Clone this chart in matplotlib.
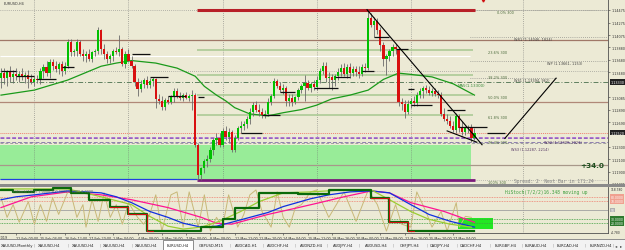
import numpy as np
import matplotlib
matplotlib.use("Agg")
import matplotlib.pyplot as plt
from matplotlib.patches import Rectangle
from matplotlib.transforms import blended_transform_factory

# ---------------- data (EURUSD H4) ----------------
opens = [1.1339, 1.1347, 1.1339, 1.1348, 1.1341, 1.1345, 1.1342, 1.1345, 1.1341, 1.1344,
         1.1337, 1.1333, 1.1337, 1.1336, 1.1350, 1.1356, 1.1347, 1.1364, 1.1359, 1.1353,
         1.1361, 1.1350, 1.1359, 1.1397, 1.1380, 1.1382, 1.1397, 1.1378, 1.1374, 1.1377,
         1.1370, 1.1380, 1.1383, 1.1416, 1.1386, 1.1377, 1.1369, 1.1374, 1.1383, 1.1380,
         1.1385, 1.1361, 1.1377, 1.1367, 1.1359, 1.1333, 1.1322, 1.1330, 1.1336, 1.1328,
         1.1334, 1.1337, 1.1306, 1.1303, 1.1293, 1.1304, 1.1301, 1.1309, 1.1318, 1.1311,
         1.1307, 1.1312, 1.1307, 1.1311, 1.1312, 1.1232, 1.1185, 1.1196, 1.1207, 1.1211,
         1.1224, 1.1240, 1.1244, 1.1233, 1.1255, 1.1246, 1.1254, 1.1225, 1.1243, 1.1259,
         1.1263, 1.1266, 1.1274, 1.1285, 1.1296, 1.1289, 1.1285, 1.1281, 1.1282, 1.1301,
         1.1311, 1.1334, 1.1326, 1.1320, 1.1323, 1.1303, 1.1307, 1.1301, 1.1309, 1.1320,
         1.1326, 1.1331, 1.1323, 1.1330, 1.1325, 1.1336, 1.1350, 1.1358, 1.1339, 1.1341,
         1.1336, 1.1342, 1.1348, 1.1355, 1.1345, 1.1356, 1.1347, 1.1353, 1.1348, 1.1345,
         1.1356, 1.1355, 1.1434, 1.1424, 1.1430, 1.1415, 1.1391, 1.1369, 1.1374, 1.1382,
         1.1388, 1.1386, 1.1301, 1.1298, 1.1285, 1.1298, 1.1303, 1.1300, 1.1312, 1.1318,
         1.1323, 1.1320, 1.1315, 1.1318, 1.1314, 1.1312, 1.1282, 1.1274, 1.1270, 1.1263,
         1.1257, 1.1279, 1.1260, 1.1254, 1.1259, 1.1262, 1.1244]
highs = [1.1355, 1.1355, 1.1352, 1.1358, 1.1352, 1.1355, 1.1350, 1.1355, 1.1348, 1.1352,
         1.1345, 1.1342, 1.1344, 1.1355, 1.1361, 1.1367, 1.1370, 1.1370, 1.1367, 1.1364,
         1.1367, 1.1364, 1.1402, 1.1402, 1.1386, 1.1402, 1.1399, 1.1386, 1.1383, 1.1386,
         1.1383, 1.1386, 1.1421, 1.1418, 1.1393, 1.1383, 1.1378, 1.1386, 1.1389, 1.1408,
         1.1389, 1.1383, 1.1386, 1.1374, 1.1361, 1.1339, 1.1336, 1.1339, 1.1342, 1.1339,
         1.1341, 1.1339, 1.1314, 1.1311, 1.1307, 1.1311, 1.1312, 1.1323, 1.1323, 1.1317,
         1.1315, 1.1317, 1.1314, 1.1320, 1.1315, 1.1235, 1.1197, 1.1210, 1.1216, 1.1229,
         1.1244, 1.1251, 1.1251, 1.1260, 1.1263, 1.1260, 1.1257, 1.1248, 1.1263, 1.1270,
         1.1271, 1.1279, 1.1292, 1.1301, 1.1303, 1.1298, 1.1292, 1.1289, 1.1307, 1.1314,
         1.1339, 1.1337, 1.1333, 1.1330, 1.1326, 1.1314, 1.1314, 1.1311, 1.1323, 1.1330,
         1.1344, 1.1336, 1.1333, 1.1336, 1.1342, 1.1355, 1.1364, 1.1364, 1.1348, 1.1345,
         1.1345, 1.1355, 1.1361, 1.1363, 1.1361, 1.1363, 1.1358, 1.1358, 1.1358, 1.1361,
         1.1363, 1.1448, 1.1443, 1.1437, 1.1434, 1.1421, 1.1396, 1.1378, 1.1386, 1.1393,
         1.1393, 1.1389, 1.1307, 1.1304, 1.1304, 1.1307, 1.1311, 1.1317, 1.1323, 1.1326,
         1.1328, 1.1326, 1.1323, 1.1323, 1.1320, 1.1317, 1.1292, 1.1282, 1.1279, 1.1270,
         1.1284, 1.1282, 1.1270, 1.1263, 1.1265, 1.1266, 1.1260]
lows = [1.1323, 1.1330, 1.1326, 1.1333, 1.1331, 1.1336, 1.1333, 1.1336, 1.1331, 1.1323,
        1.1330, 1.1326, 1.1331, 1.1330, 1.1339, 1.1342, 1.1339, 1.1352, 1.1348, 1.1345,
        1.1342, 1.1345, 1.1355, 1.1374, 1.1374, 1.1375, 1.1374, 1.1367, 1.1364, 1.1367,
        1.1364, 1.1374, 1.1377, 1.1378, 1.1370, 1.1363, 1.1363, 1.1367, 1.1377, 1.1374,
        1.1358, 1.1355, 1.1364, 1.1355, 1.1326, 1.1311, 1.1317, 1.1323, 1.1323, 1.1323,
        1.1326, 1.1292, 1.1298, 1.1289, 1.1289, 1.1298, 1.1298, 1.1301, 1.1307, 1.1304,
        1.1303, 1.1306, 1.1303, 1.1289, 1.1229, 1.1177, 1.1177, 1.1188, 1.1197, 1.1205,
        1.1216, 1.1232, 1.1229, 1.1229, 1.1241, 1.1237, 1.1221, 1.1222, 1.1240, 1.1251,
        1.1257, 1.1260, 1.1266, 1.1278, 1.1285, 1.1279, 1.1276, 1.1276, 1.1279, 1.1296,
        1.1307, 1.1323, 1.1317, 1.1314, 1.1295, 1.1295, 1.1295, 1.1298, 1.1304, 1.1315,
        1.1303, 1.1320, 1.1317, 1.1320, 1.1320, 1.1331, 1.1345, 1.1333, 1.1323, 1.1320,
        1.1326, 1.1336, 1.1342, 1.1342, 1.1339, 1.1339, 1.1342, 1.1342, 1.1339, 1.1342,
        1.1348, 1.1352, 1.1421, 1.1405, 1.1410, 1.1383, 1.1358, 1.1344, 1.1367, 1.1374,
        1.1377, 1.1295, 1.1289, 1.1276, 1.1282, 1.1292, 1.1295, 1.1295, 1.1307, 1.1307,
        1.1315, 1.1312, 1.1311, 1.1311, 1.1307, 1.1279, 1.1270, 1.1266, 1.1260, 1.1254,
        1.1252, 1.1254, 1.1249, 1.1248, 1.1251, 1.1238, 1.1241]
closes = [1.1347, 1.1339, 1.1348, 1.1341, 1.1345, 1.1342, 1.1345, 1.1341, 1.1344, 1.1337,
          1.1333, 1.1337, 1.1336, 1.1350, 1.1356, 1.1347, 1.1364, 1.1359, 1.1353, 1.1361,
          1.1350, 1.1359, 1.1397, 1.1380, 1.1382, 1.1397, 1.1378, 1.1374, 1.1377, 1.1370,
          1.1380, 1.1383, 1.1416, 1.1386, 1.1377, 1.1369, 1.1374, 1.1383, 1.1380, 1.1385,
          1.1361, 1.1377, 1.1367, 1.1359, 1.1333, 1.1322, 1.1330, 1.1336, 1.1328, 1.1334,
          1.1337, 1.1306, 1.1303, 1.1293, 1.1304, 1.1301, 1.1309, 1.1318, 1.1311, 1.1307,
          1.1312, 1.1307, 1.1311, 1.1312, 1.1232, 1.1185, 1.1196, 1.1207, 1.1211, 1.1224,
          1.1240, 1.1244, 1.1233, 1.1255, 1.1246, 1.1254, 1.1225, 1.1243, 1.1259, 1.1263,
          1.1266, 1.1274, 1.1285, 1.1296, 1.1289, 1.1285, 1.1281, 1.1282, 1.1301, 1.1311,
          1.1334, 1.1326, 1.1320, 1.1323, 1.1303, 1.1307, 1.1301, 1.1309, 1.1320, 1.1326,
          1.1331, 1.1323, 1.1330, 1.1325, 1.1336, 1.1350, 1.1358, 1.1339, 1.1341, 1.1336,
          1.1342, 1.1348, 1.1355, 1.1345, 1.1356, 1.1347, 1.1353, 1.1348, 1.1345, 1.1356,
          1.1355, 1.1434, 1.1424, 1.1430, 1.1415, 1.1391, 1.1369, 1.1374, 1.1382, 1.1388,
          1.1385, 1.1301, 1.1298, 1.1285, 1.1298, 1.1303, 1.1300, 1.1312, 1.1318, 1.1323,
          1.1320, 1.1315, 1.1318, 1.1314, 1.1312, 1.1282, 1.1274, 1.1270, 1.1263, 1.1257,
          1.1279, 1.1260, 1.1254, 1.1259, 1.1262, 1.1244, 1.1252]

# moving average (bar index, price)
ma_idx = [0, 11, 22, 33, 38, 43, 51, 58, 64, 67, 71, 74, 77, 82, 88, 93, 99, 104, 109,
          115, 121, 126, 131, 135, 142, 149, 156]
ma_val = [1.1312, 1.1320, 1.1336, 1.1358, 1.1363, 1.1367, 1.1363, 1.1355, 1.1342, 1.1326,
          1.1312, 1.1303, 1.1292, 1.1282, 1.1279, 1.1284, 1.1289, 1.1296, 1.1306,
          1.1312, 1.1320, 1.1337, 1.1347, 1.1345, 1.1341, 1.1330, 1.1312]

# fractal levels (start bar, end bar, price)
frac_start = [0, 5, 12, 20, 43, 49, 55, 65, 79, 86, 92, 103, 110, 119, 123, 130, 134, 135, 147, 151, 160]
frac_end = [5, 11, 18, 24, 49, 55, 61, 67, 86, 92, 97, 111, 115, 123, 128, 134, 136, 142, 153, 160, 166]
frac_price = [1.1350, 1.1342, 1.1337, 1.1356, 1.1377, 1.1341, 1.1311, 1.1309, 1.1252, 1.1281,
              1.1317, 1.1323, 1.1341, 1.1350, 1.1405, 1.1385, 1.1322, 1.1296, 1.1289, 1.1262, 1.1251]

# hand drawn trend lines
trend_x = [[120.6, 158.5], [147.0, 156.8], [166.0, 182.9]]
trend_p = [[1.1448, 1.1233], [1.1255, 1.1237], [1.1243, 1.1339]]

# fibonacci retracement
fib_levels = [1.1448, 1.1384, 1.1344, 1.13125, 1.1281, 1.1241, 1.1177]
fib_names = ["0.0% 300", "23.6% 300", "38.2% 300", "50.0% 300", "61.8% 300", "76.4% 300", "100% 300"]

pivot_prices = [1.1405, 1.1366, 1.1339]
pivot_names = ["WR1 (1.14046, 1824)", "WP (1.13661, 1153)", "WS1 (1.13394, 962)"]
low_names = ["WS2 (1.12379, 2023)", "WS3 (1.12287, 2214)"]
low_name_prices = [1.1238, 1.1227]

price_ticks = [1.14475, 1.14275, 1.14075, 1.13880, 1.13680, 1.13480, 1.13085,
               1.12890, 1.12690, 1.12300, 1.12100, 1.11900, 1.11705]

# indicator panel (0..100 scale)
pink_idx = [0, 10, 22, 33, 43, 55, 66, 71, 76, 82, 88, 98, 105, 113, 122, 128, 135, 146, 156]
pink_val = [55.5, 80, 91.1, 84.4, 73.3, 55.5, 33.3, 20, 17.8, 28.9, 40, 55.5, 66.7, 80,
            93.3, 88.9, 66.7, 46.7, 22.2]
blue_idx = [0, 5, 11, 22, 33, 38, 43, 49, 55, 60, 66, 71, 76, 88, 93, 102, 108, 115, 122,
            128, 135, 141, 148, 156]
blue_val = [73.3, 80, 84.4, 93.3, 88.9, 80, 66.7, 46.7, 33.3, 20, 11.1, 13.3, 22.2, 44.4,
            57.8, 75.5, 84.4, 91.1, 93.3, 88.9, 62.2, 40, 24.4, 11.1]
lime_idx = [0, 22, 33, 43, 49, 55, 60, 66, 72, 79, 85, 93, 102, 113, 122, 128, 135, 141, 148, 155]
lime_val = [97.8, 97.8, 80, 62.2, 35.6, 13.3, 6.7, 11.1, 24.4, 46.7, 68.9, 88.9, 91.1,
            95.5, 95.5, 73.3, 46.7, 28.9, 17.8, 11.1]
step_idx = [0, 4, 11, 17, 23, 29, 36, 42, 48, 66, 73, 77, 85, 98, 108, 122, 128, 134, 156]
step_val = [95.5, 91.1, 95.5, 100, 88.9, 73.3, 57.8, 40, 2.2, 11.1, 28.9, 55.5, 88.9,
            86.7, 95.5, 77.8, 22.2, 2.2, 2.2]
red_step_idx = [[36, 42, 48, 50], [122, 128, 134, 136]]
red_step_val = [[57.8, 40, 2.2, 2.2], [77.8, 22.2, 2.2, 2.2]]
stoch_idx = [0, 2, 4, 6, 9, 11, 13, 15, 17, 19, 22, 23, 25, 27, 28, 30, 32, 34, 36, 38, 40,
             42, 45, 47, 49, 51, 53, 56, 58, 60, 62, 65, 67, 69, 71, 73, 75, 78, 80, 82, 84,
             86, 89, 91, 93, 95, 97, 99, 102, 104, 108, 113, 117, 121, 124, 127, 130, 132,
             135, 137, 140, 142, 145, 147, 150, 151, 153, 155]
stoch_val = [77.8, 33.3, 62.2, 22.2, 68.9, 17.8, 62.2, 24.4, 77.8, 40, 91.1, 88.9, 33.3,
             62.2, 11.1, 73.3, 24.4, 88.9, 33.3, 62.2, 17.8, 66.7, 33.3, 17.8, 40, 84.4,
             2.2, 84.4, 91.1, 11.1, 91.1, 11.1, 84.4, 2.2, 33.3, 11.1, 84.4, 11.1, 40, 84.4,
             95.5, 46.7, 11.1, 91.1, 33.3, 11.1, 55.5, 62.2, 91.1, 95.5, 33.3, 91.1, 24.4,
             95.5, 62.2, 2.2, 62.2, 17.8, 11.1, 91.1, 46.7, 11.1, 46.7, 2.2, 66.7, 11.1, 35.6, 33.3]
ind_levels = [80, 70, 50, 30, 20]
ind_level_text = ["80.0000", "70.0000", "50", "30.0000", "20.0000"]

grid_idx = [11, 42, 73, 104, 135, 172]
time_idx = [5, 13, 21, 29, 37, 45, 53, 61, 69, 77, 85, 93, 101, 109, 117, 125, 133, 141, 149]
time_labels = ["22 Feb 00:00", "25 Feb 04:00", "26 Feb 12:00", "27 Feb 20:00", "1 Mar 04:00",
               "4 Mar 08:00", "5 Mar 16:00", "7 Mar 00:00", "8 Mar 08:00", "11 Mar 12:00",
               "12 Mar 20:00", "14 Mar 04:00", "15 Mar 12:00", "18 Mar 16:00", "20 Mar 00:00",
               "21 Mar 08:00", "22 Mar 16:00", "25 Mar 20:00", "27 Mar 04:00"]

tabs = ["XAUUSD,Monthly", "XAUUSD,H4", "XAUUSD,H4", "XAUUSD,H4", "XAUUSD,H4", "EURUSD,H4",
        "GBPUSD,M15", "AUDCAD,H1", "AUDCHF,H4", "AUDNZD,H4", "AUDJPY,H4", "AUDUSD,H4",
        "CHFJPY,H4", "CADJPY,H4", "CADCHF,H4", "EURGBP,H4", "EURAUD,H4", "EURCAD,H4", "EURNZD,H4"]
tab_x = [1, 38, 72, 103, 135, 167, 199, 235, 267, 300, 333, 365, 400, 430, 460, 495, 525, 557, 590]
tab_sep = [34, 68, 100, 132, 230, 263, 295, 327, 359, 393, 427, 457, 490, 522, 553, 585, 613]

# ---------------- figure ----------------
W, H = 625, 251
BG = "#ecead5"
fig = plt.figure(figsize=(W / 100, H / 100), dpi=100)
fig.patch.set_facecolor(BG)


def px_axes(x0, y0, x1, y1):
    return fig.add_axes([x0 / W, 1 - y1 / H, (x1 - x0) / W, (y1 - y0) / H])


XLIM = (-0.33, 200.0)
idx = np.arange(len(closes))
o, h, l, c = map(np.array, (opens, highs, lows, closes))

ax = px_axes(0, 0, 608, 185)
ax.set_facecolor(BG)
ax.set_xlim(*XLIM)
ax.set_ylim(1.11734, 1.14650)

for g in grid_idx:
    ax.axvline(g, color="#707070", lw=0.5, ls=(0, (1, 2)))

# horizontal levels
ax.axhline(1.1448, color="#808080", lw=0.5, ls=(0, (1, 2)))
ax.axhline(1.1350, color="#808080", lw=0.5, ls=(0, (1, 2)))
ax.axhline(1.1400, color="#a07868", lw=0.9)
ax.axhline(1.1301, color="#b08878", lw=0.9)
ax.axhline(1.1333, color="#5f7f5f", lw=0.7, ls=(0, (5, 2, 1, 2)))
ax.axhline(1.1200, color="#a8988a", lw=0.8)
ax.hlines(1.1374, -0.33, 154.5, color="white", lw=0.8)
for p in fib_levels[1:5]:
    ax.hlines(p, 64.5, 155.5, color="#a6c890", lw=1.1)
for p, col, st in zip([1.1251, 1.1246, 1.1243, 1.1238, 1.1235],
                      ["#f08070", "#b070d0", "#9060c0", "#9080b0", "#a0a0a0"],
                      [(0, (1, 1)), (0, (4, 2)), (0, (4, 2)), (0, (4, 2)), (0, (3, 2))]):
    ax.axhline(p, color=col, lw=0.7, ls=st)
ax.fill_between([-0.33, 155.0], 1.1177, 1.1233, color="#98ec98", lw=0, zorder=1)
ax.axhline(1.1200, xmax=1, color="#a8988a", lw=0.8, zorder=1.5)

# dotted pivot / fib lines to the right
for p in [fib_levels[0], pivot_prices[0], pivot_prices[1]]:
    ax.hlines(p, 154.5, 200, color="#707070", lw=0.5, ls=(0, (1, 2)))
ax.hlines(pivot_prices[2], 154.5, 183, color="#707070", lw=0.5, ls=(0, (1, 2)))
ax.hlines(fib_levels[-1], 154.5, 200, color="#909090", lw=0.5, ls=(0, (1, 2)))

# support/resistance bounds
ax.hlines(1.1448, 64.6, 156.2, color="#b82028", lw=2.2, zorder=3)
ax.hlines(1.1178, -0.33, 64.6, color="#2040e0", lw=0.9, zorder=3)
ax.hlines(1.1177, 64.6, 156.2, color="#7a1a7a", lw=2.0, zorder=3)

# moving average
ax.plot(ma_idx, ma_val, color="#1a9a1a", lw=0.9, zorder=2)

# candles
up = c >= o
ax.vlines(idx, l, h, color="#6a6a6a", lw=0.6, zorder=4)
ax.bar(idx[up], (c - o)[up], bottom=o[up], width=0.72, color="#00c000", lw=0, zorder=5)
ax.bar(idx[~up], (c - o)[~up], bottom=o[~up], width=0.72, color="#d81010", lw=0, zorder=5)

# fractal levels
for s, e, p in zip(frac_start, frac_end, frac_price):
    ax.hlines(p, s, e, color="#101010", lw=0.9, zorder=6)

for tx, tp in zip(trend_x, trend_p):
    ax.plot(tx, tp, color="#000000", lw=0.8, zorder=6)

# labels
for p, n in zip(fib_levels, fib_names):
    ax.text(160.5 if n != "0.0% 300" else 163.5, p - 0.00005, n, fontsize=2.5,
            color="#4a6a3a", va="top", ha="left", zorder=7)
for p, n, xx in zip(pivot_prices, pivot_names, [169, 180, 169]):
    ax.text(xx, p - 0.00003, n, fontsize=2.5, color="#404040", va="top", ha="left")
for p, n, xx in zip(low_name_prices, low_names, [179, 168]):
    ax.text(xx, p, n, fontsize=2.5, color="#503060", va="center", ha="left")
ax.text(150.5, 1.1328, "MA5(1.13300)", fontsize=2.8, color="#3a8a3a", va="center", ha="left")
ax.text(191, 1.1200, "+34.0", fontsize=5.2, color="#1e4e1e", va="center", ha="left",
        fontweight="bold")
ax.text(169, 1.11765, "Spread: 2  Next Bar in 171:24", fontsize=3.3, color="#808080",
        family="DejaVu Sans Mono", va="center", ha="left")
ax.text(1, 1.14585, "EURUSD,H4", fontsize=2.5, color="#303030", va="center", ha="left")

ax.yaxis.tick_right()
ax.set_yticks(price_ticks)
ax.set_yticklabels([f"{t:.5f}" for t in price_ticks])
ax.tick_params(axis="y", length=1.5, width=0.4, labelsize=2.4, pad=0.8, colors="#303030")
ax.set_xticks([])
for s in ["top", "left", "bottom"]:
    ax.spines[s].set_visible(False)
ax.spines["right"].set_color("#505050")
ax.spines["right"].set_linewidth(0.6)

tr = blended_transform_factory(ax.transAxes, ax.transData)
for p, t in [(1.1333, "1.13330"), (1.1252, "1.12520")]:
    ax.text(1.004, p, t, transform=tr, fontsize=2.4, color="white", va="center", ha="left",
            bbox=dict(boxstyle="square,pad=0.2", fc="#202020", ec="none"), clip_on=False)
ax.plot([158.8], [1.14635], marker="v", color="#d01010", ms=2.2, clip_on=False)

# separator between panels
fig.patches.append(Rectangle((0, 1 - 187.5 / H), 1, 2.5 / H, transform=fig.transFigure,
                             fc="#8a8a8a", ec="none"))

# ---------------- indicator panel ----------------
ax2 = px_axes(0, 188, 608, 234)
ax2.set_facecolor(BG)
ax2.set_xlim(*XLIM)
ax2.set_ylim(-2.2, 102.2)
for g in grid_idx:
    ax2.axvline(g, color="#707070", lw=0.5, ls=(0, (1, 2)))
for v, col, st in zip(ind_levels, ["#f08070", "#f08070", "#a0a0a0", "#40a040", "#40a040"],
                      [(0, (1, 1)), (0, (1, 1)), "-", (0, (1, 1)), (0, (1, 1))]):
    ax2.axhline(v, color=col, lw=0.6, ls=st)
ax2.add_patch(Rectangle((150.5, 6.0), 11.5, 26, fc="#22e822", ec="none", zorder=1))
ax2.plot(stoch_idx, stoch_val, color="#c8b878", lw=0.7, zorder=2)
ax2.plot(pink_idx, pink_val, color="#ff1493", lw=0.9, zorder=3)
ax2.plot(blue_idx, blue_val, color="#1030e0", lw=0.9, zorder=3)
ax2.plot(lime_idx, lime_val, color="#9acd32", lw=0.9, zorder=3)
ax2.step(step_idx, step_val, where="post", color="#0a6a0a", lw=1.6, zorder=4)
for si, sv in zip(red_step_idx, red_step_val):
    ax2.step(si, sv, where="post", color="#d01010", lw=0.8, zorder=5)
ax2.text(4, 93, "HiStoch(7/2/2) 7.0000 100.0000 0.0000 0.0000", fontsize=2.4,
         color="#606060", va="center", ha="left", zorder=6)
ax2.text(166, 93, "HiStoch(7/2/2)16.348 moving up", fontsize=3.3, color="#40a040",
         family="DejaVu Sans Mono", va="center", ha="left", zorder=6)

tr2 = blended_transform_factory(ax2.transAxes, ax2.transData)
for v, t, fc in zip(ind_levels, ind_level_text,
                    ["#f0a090", "#f0a090", "#b0b0b0", "#2e7a2e", "#2e7a2e"]):
    ax2.text(1.004, v, t, transform=tr2, fontsize=2.2, color="white", va="center",
             ha="left", bbox=dict(boxstyle="square,pad=0.15", fc=fc, ec="none"), clip_on=False)
ax2.text(1.004, 97, "118.780", transform=tr2, fontsize=2.2, color="#303030",
         va="center", ha="left", clip_on=False)
ax2.text(1.004, 1, "-4.780", transform=tr2, fontsize=2.2, color="#303030",
         va="center", ha="left", clip_on=False)

ax2.set_yticks([])
ax2.set_xticks(time_idx)
ax2.set_xticklabels(time_labels, fontsize=2.4, ha="left", color="#303030")
ax2.tick_params(axis="x", length=1.5, width=0.4, pad=0.8, colors="#303030")
ax2.spines["left"].set_visible(False)
ax2.spines["top"].set_visible(False)
for s in ["right", "bottom"]:
    ax2.spines[s].set_color("#505050")
    ax2.spines[s].set_linewidth(0.6)
fig.text(-14 / W, 1 - 238 / H, "21 Feb 2019", fontsize=2.4, color="#303030", va="center")

# ---------------- tab bar ----------------
fig.patches.append(Rectangle((0, 0), 1, 10 / H, transform=fig.transFigure,
                             fc="#f2f2f2", ec="none"))
fig.patches.append(Rectangle((0, 10 / H), 1, 0.6 / H, transform=fig.transFigure,
                             fc="#909090", ec="none"))
fig.patches.append(Rectangle((163 / W, 0.5 / H), 30 / W, 10 / H, transform=fig.transFigure,
                             fc="white", ec="#606060", lw=0.5))
for name, x in zip(tabs, tab_x):
    fig.text(x / W, 1 - 246 / H, name, fontsize=2.7, color="#202020", va="center", ha="left")
for x in tab_sep:
    fig.text(x / W, 1 - 246 / H, "|", fontsize=3.2, color="#a0a0a0", va="center", ha="center")
fig.text(616 / W, 1 - 246 / H, "◂", fontsize=3.2, color="#404040", va="center", ha="center")
fig.text(621 / W, 1 - 246 / H, "▸", fontsize=3.2, color="#404040", va="center", ha="center")

fig.savefig("out.png", dpi=100, facecolor=BG)
